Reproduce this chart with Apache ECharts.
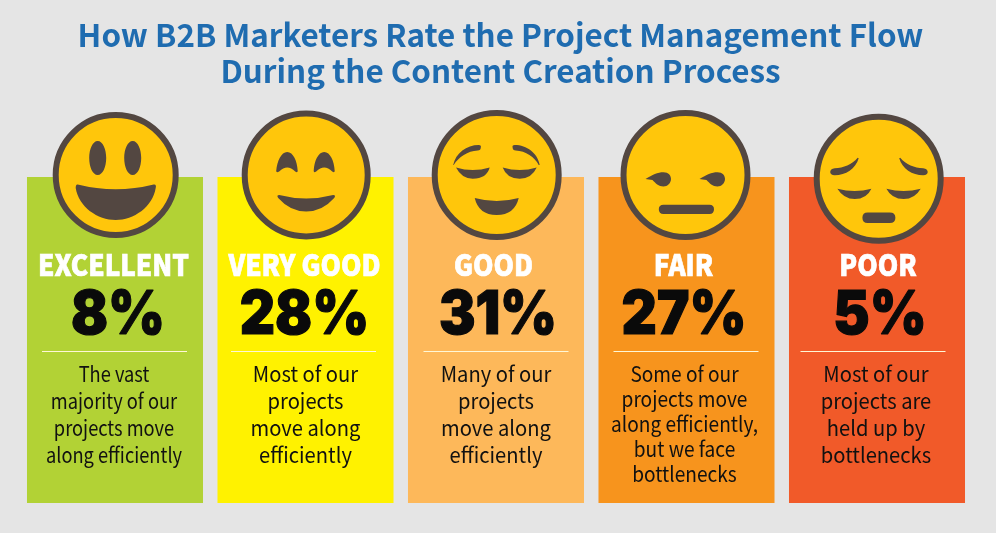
<!DOCTYPE html>
<html>
<head>
<meta charset="utf-8">
<style>
  html, body { margin: 0; padding: 0; background: #e5e5e5; }
  #chart { width: 996px; height: 533px; }
</style>
<script src="https://cdn.jsdelivr.net/npm/echarts@6/dist/echarts.min.js"></script>
</head>
<body>
<div id="chart"></div>
<script>
// data
var titleLines = ['How B2B Marketers Rate the Project Management Flow', 'During the Content Creation Process'];
var categories = ['EXCELLENT', 'VERY GOOD', 'GOOD', 'FAIR', 'POOR'];
var percents = [8, 28, 31, 27, 5];
var descriptions = [
  ['The vast', 'majority of our', 'projects move', 'along efficiently'],
  ['Most of our', 'projects', 'move along', 'efficiently'],
  ['Many of our', 'projects', 'move along', 'efficiently'],
  ['Some of our', 'projects move', 'along efficiently,', 'but we face', 'bottlenecks'],
  ['Most of our', 'projects are', 'held up by', 'bottlenecks']
];

// styles
var cardColors = ['#b2d235', '#fff200', '#fdb85a', '#f7941d', '#f15a29'];
var faceFill = '#ffc60b';
var faceInk = '#534741';
var bodyFont = '"Noto Sans CJK SC", "Noto Sans", sans-serif';
var numberFont = 'Inter, Lato, sans-serif';

// small nudges from the card centre, the artwork is not quite regular
var faceDx = [0.7, 0.7, 0.7, -1, 1.7];
var faceDy = [-2, -2, -2, -2, 1.7];
var faceR = [60, 61.5, 62, 62, 62];
var labelDx = [-1.5, -1, -2.5, -3, 1];
var pctDx = [3, -1, 2, -2.5, 3];
var ruleDx = [-0.5, -2, 0, -0.5, -4];
var descDx = [-1, 0, 0, -2, -1];
var descLine = [27, 27, 27, 25, 27];
// the body text tracking changes from card to card in the original
var descSqueeze = [0.87, 0.96, 0.96, 0.91, 0.96];

// face drawings, local px around the face centre
var facePaths = [
  // excellent
  'M-18,-34 C-13,-34 -9.5,-26 -9.5,-17 C-9.5,-8 -13,0 -18,0 C-23,0 -26.5,-8 -26.5,-17 C-26.5,-26 -23,-34 -18,-34 Z' +
  'M17,-34 C22,-34 25.5,-26 25.5,-17 C25.5,-8 22,0 17,0 C12,0 8.5,-8 8.5,-17 C8.5,-26 12,-34 17,-34 Z' +
  'M-38,9.5 Q0,19 38,9.5 Q41,9 40,13 C37,32 18,45 0,45 C-18,45 -37,32 -40,13 Q-40,9 -38,9.5 Z',
  // very good
  'M-30,-4 C-29,-14 -25,-23 -19,-23 C-13,-23 -9,-14 -8.5,-4 Q-8.5,-2 -11,-3.5 Q-15,-7.5 -19,-7.5 Q-23,-7.5 -27,-3.5 Q-30,-2 -30,-4 Z' +
  'M7.5,-4 C8,-14 12,-23 18,-23 C24,-23 28,-14 28.5,-4 Q28.5,-2 26,-3.5 Q22,-7.5 18,-7.5 Q14,-7.5 10,-3.5 Q7.5,-2 7.5,-4 Z' +
  'M-27,20 Q0,27 27,20 Q30,20 28,23 Q16,36.5 0,36.5 Q-16,36.5 -28,23 Q-30,20 -27,20 Z',
  // good
  'M-43.5,-10 C-41,-22 -30,-30 -18,-30 Q-15,-30 -16,-27 Q-16,-25 -19,-24.5 C-29,-24 -38,-18 -43,-10 Z' +
  'M43,-10 C41,-22 30,-30 18,-30 Q15,-30 16,-27 Q16,-25 19,-24.5 C29,-24 38,-18 42,-10 Z' +
  'M-40.7,-7.5 Q-24,-2.5 -7,-7.5 Q-10,3.7 -24,3.7 Q-35,3.7 -40.7,-7.5 Z' +
  'M6,-7.5 Q23,-2.5 40,-7.5 Q35,3.7 23,3.7 Q10,3.7 6,-7.5 Z' +
  'M-22,23 Q0,29 22,23 Q18,40 0,40 Q-18,40 -22,23 Z',
  // fair
  'M-40,4 C-33,0 -28,-2.7 -22,-2.7 C-17,-2.7 -14.5,0.5 -14.5,4 C-14.5,8 -18,11.5 -22,11.5 C-27,11.5 -30,8 -33,5 Q-37,4.5 -40,4 Z' +
  'M14,4 C21,0 26,-2.7 32,-2.7 C37,-2.7 39.5,0.5 39.5,4 C39.5,8 36,11.5 32,11.5 C27,11.5 24,8 21,5 Q17,4.5 14,4 Z' +
  'M-22,29.7 L24,29.7 Q28.5,29.7 28.5,34.3 Q28.5,39 24,39 L-22,39 Q-26.7,39 -26.7,34.3 Q-26.7,29.7 -22,29.7 Z',
  // poor
  'M-20,-20.5 C-23,-10 -33,-3.5 -44,-3.5 C-50,-3.5 -50,-10 -44,-10.5 C-35,-11 -27,-14 -21,-21 Z' +
  'M20.5,-20.5 C23.5,-10 33.5,-3.5 44.5,-3.5 C50.5,-3.5 50.5,-10 44.5,-10.5 C35.5,-11 27.5,-14 21.5,-21 Z' +
  'M-41.3,10 Q-24,14.5 -7.3,10 Q-12,20.3 -24,20.3 Q-35,20.3 -41.3,10 Z' +
  'M7.7,10 Q25,14.5 42,10 Q36,20.3 25,20.3 Q13,20.3 7.7,10 Z' +
  'M-11,33.7 L11,33.7 Q16.7,33.7 16.7,39 Q16.7,44.3 11,44.3 L-11,44.3 Q-16.3,44.3 -16.3,39 Q-16.3,33.7 -11,33.7 Z'
];

var myChart = echarts.init(document.getElementById('chart'));

function renderCard(params, api) {
  var i = api.value(0);
  var bottom = api.coord([i, 0]);
  var top = api.coord([i, 1]);
  var bandW = api.size([1, 0])[0];
  var cardW = bandW * 0.924;
  var cx = bottom[0];
  var y0 = top[1];

  // the original face is narrower than anything installed, so squeeze it a bit
  var textAt = function (text, dx, y, squeeze, font, fill, extra) {
    var style = { text: text, x: 0, y: 0, align: 'center', verticalAlign: 'middle', font: font, fill: fill };
    for (var k in extra) { style[k] = extra[k]; }
    return { type: 'text', x: cx + dx, y: y0 + y, scaleX: squeeze, style: style, z2: 5 };
  };

  var line = descLine[i];
  return {
    type: 'group',
    children: [
      {
        type: 'rect',
        shape: { x: cx - cardW / 2, y: y0, width: cardW, height: bottom[1] - y0 },
        style: { fill: cardColors[i] }
      },
      {
        type: 'circle',
        shape: { cx: cx + faceDx[i], cy: y0 + faceDy[i], r: faceR[i] },
        style: { fill: faceFill, stroke: faceInk, lineWidth: 6 },
        z2: 2
      },
      {
        type: 'path',
        x: cx + faceDx[i],
        y: y0 + faceDy[i],
        shape: { pathData: facePaths[i] },
        style: { fill: faceInk },
        z2: 3
      },
      textAt(categories[i], labelDx[i], 88, 0.9, '900 29px ' + bodyFont, '#ffffff', {
        stroke: '#ffffff',
        lineWidth: 0.7
      }),
      textAt(api.value(1) + '%', pctDx[i], 139, 0.91, '900 60px ' + numberFont, '#0a0a0a', {
        stroke: '#0a0a0a',
        lineWidth: 1.2
      }),
      {
        type: 'rect',
        shape: { x: cx + ruleDx[i] - 72.5, y: y0 + 174, width: 145, height: 1 },
        style: { fill: '#fff7d6' },
        z2: 4
      },
      textAt(descriptions[i].join('\n'), descDx[i], 197 - line / 2, descSqueeze[i], '400 21px ' + bodyFont, '#111111', {
        verticalAlign: 'top',
        lineHeight: line
      })
    ]
  };
}

var option = {
  backgroundColor: '#e5e5e5',
  animation: false,
  title: {
    text: titleLines.join('\n'),
    left: 495.5,
    top: 12,
    textAlign: 'center',
    textStyle: {
      fontFamily: bodyFont,
      fontWeight: 700,
      fontSize: 31.4,
      lineHeight: 36,
      color: '#1f6cb0'
    }
  },
  tooltip: { show: false },
  grid: { left: 19.75, width: 952.5, top: 177, height: 326 },
  xAxis: { type: 'category', data: categories, show: false },
  yAxis: { type: 'value', min: 0, max: 1, show: false },
  series: [{
    type: 'custom',
    clip: false,
    silent: true,
    renderItem: renderCard,
    data: percents.map(function (p, i) { return [i, p]; })
  }]
};

myChart.setOption(option);
</script>
</body>
</html>
